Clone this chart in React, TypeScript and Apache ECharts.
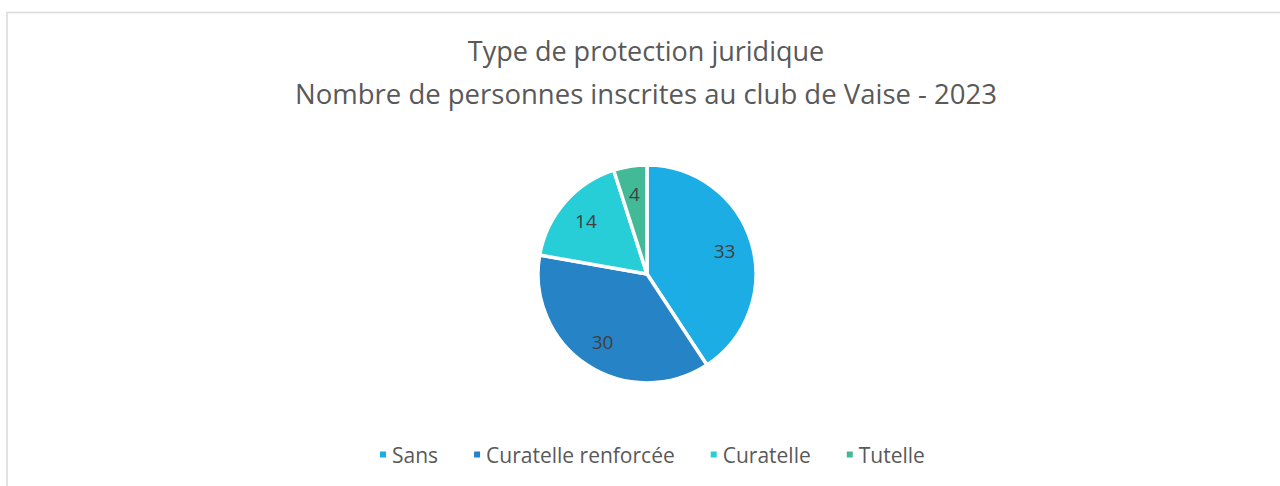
import React, { useEffect, useRef } from "react";
import * as echarts from "echarts";

const categories = ["Sans", "Curatelle renforcée", "Curatelle", "Tutelle"];
const values = [33, 30, 14, 4];
const colors = ["#1CADE4", "#2683C6", "#27CED7", "#42BA97"];
const titleLines = ["Type de protection juridique", "Nombre de personnes inscrites au club de Vaise - 2023"];

const FONT = "'Open Sans', 'Noto Sans', sans-serif";

export default function App() {
  const ref = useRef<HTMLDivElement>(null);
  useEffect(() => {
    if (!ref.current) return;
    const chart = echarts.init(ref.current, null, { renderer: "svg" });
    const data = categories.map((name, i) => ({ name, value: values[i] }));
    const titleTops = [36, 79];
    const titleSizes = [27, 27.5];
    chart.setOption({
      animation: false,
      backgroundColor: "#ffffff",
      color: colors,
      title: titleLines.map((t, i) => ({
        text: t,
        left: 646,
        textAlign: "center",
        top: titleTops[i],
        padding: 0,
        textStyle: {
          fontFamily: FONT,
          fontSize: titleSizes[i],
          fontWeight: "normal",
          color: "#595959",
          lineHeight: 28,
        },
      })),
      legend: {
        data: categories,
        bottom: 21,
        left: 378,
        padding: 0,
        icon: "rect",
        itemWidth: 8,
        itemHeight: 8,
        itemGap: 34,
        textStyle: { fontFamily: FONT, fontSize: 21, color: "#595959" },
      },
      graphic: [
        {
          type: "polyline",
          shape: { points: [[7, 486], [7, 12.5], [1280, 12.5]] },
          style: { stroke: "#d9d9d9", lineWidth: 1.5, fill: null },
          silent: true,
        },
      ],
      series: [
        {
          type: "pie",
          center: [647, 274],
          radius: [0, 109],
          startAngle: 90,
          clockwise: true,
          data,
          label: { show: false },
          labelLine: { show: false },
          itemStyle: { borderColor: "#ffffff", borderWidth: 3.5 },
          emphasis: { disabled: true },
        },
        {
          type: "pie",
          center: [647, 274],
          radius: [0, 156],
          startAngle: 90,
          clockwise: true,
          data,
          silent: true,
          itemStyle: { color: "rgba(0,0,0,0)", borderWidth: 0 },
          label: {
            show: true,
            position: "inside",
            formatter: "{c}",
            fontFamily: FONT,
            fontSize: 19,
            color: "#404040",
          },
          labelLine: { show: false },
          emphasis: { disabled: true },
        },
      ],
    });
    return () => chart.dispose();
  }, []);
  return (
    <div
      ref={ref}
      style={{ position: "fixed", left: 0, top: 0, width: 1280, height: 486 }}
    />
  );
}
